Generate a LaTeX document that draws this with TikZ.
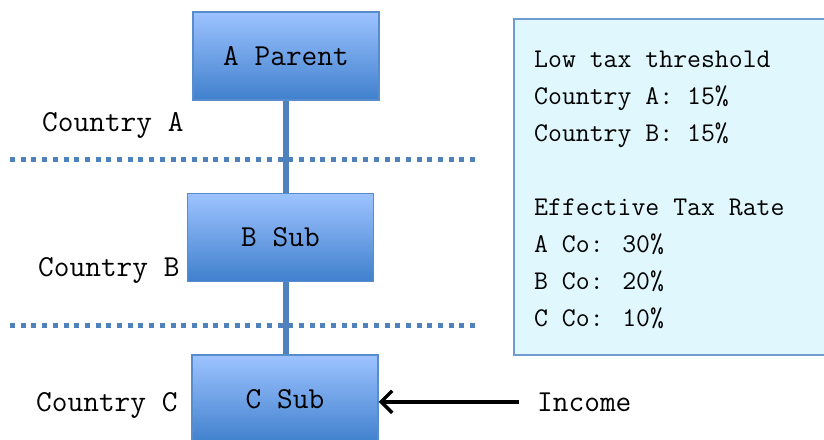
\documentclass[tikz,border=0pt]{standalone}
\usetikzlibrary{arrows.meta,backgrounds}
\definecolor{boxtop}{RGB}{157,195,255}
\definecolor{boxbot}{RGB}{64,128,205}
\definecolor{boxline}{RGB}{88,140,205}
\definecolor{linkblue}{RGB}{79,129,189}
\definecolor{infofill}{RGB}{223,247,253}
\definecolor{infoline}{RGB}{110,155,210}
\tikzset{
  orgbox/.style={draw=boxline, line width=1.5pt, top color=boxtop, bottom color=boxbot,
    minimum width=186pt, minimum height=88pt, inner sep=0pt,
    font=\ttfamily\fontsize{30.5}{37}\selectfont},
  lbl/.style={anchor=base west, inner sep=0pt, font=\ttfamily\fontsize{30.5}{37}\selectfont},
  infotxt/.style={anchor=base west, inner sep=0pt, font=\ttfamily\fontsize{27}{37}\selectfont},
  link/.style={draw=linkblue, line width=5.5pt},
  divider/.style={draw=linkblue, line width=5pt, dash pattern=on 5pt off 5.7pt},
  arr/.style={draw=black, line width=3.5pt, -{Straight Barb[length=11pt,width=22pt,line width=3.5pt]}}
}
\begin{document}
\begin{tikzpicture}[x=1pt,y=-1pt]
\useasboundingbox (0,0) rectangle (824,439);
% info box
\draw[fill=infofill, draw=infoline, line width=1.5pt] (514,19) rectangle (834,355);
\node[infotxt] (i1) at (534,67) {Low tax threshold};
\node[infotxt] (i2) at (534,104) {Country A: 15\%};
\node[infotxt] (i3) at (534,141) {Country B: 15\%};
\node[infotxt] (i4) at (534,215) {Effective Tax Rate};
\node[infotxt] (i5) at (534,252) {A Co: 30\%};
\node[infotxt] (i6) at (534,289) {B Co: 20\%};
\node[infotxt] (i7) at (534,326) {C Co: 10\%};
% boxes
\node[orgbox] (na) at (286,56) {A Parent};
\node[orgbox] (nb) at (280.5,237.5) {B Sub};
\node[orgbox] (nc) at (285,399) {C Sub};
% dividers
\coordinate (d1l) at (10,159);
\coordinate (d1r) at (478,159);
\coordinate (d2l) at (10,325);
\coordinate (d2r) at (478,325);
% connectors and dividers behind the boxes
\begin{scope}[on background layer]
\draw[divider] (d1l) -- (d1r);
\draw[divider] (d2l) -- (d2r);
\draw[link] (na.south) -- (na.south |- nb.north);
\draw[link] (na.south |- nb.south) -- (na.south |- nc.north);
\end{scope}
% country labels
\node[lbl] (ca) at (42,131) {Country A};
\node[lbl] (cb) at (38,276) {Country B};
\node[lbl] (cc) at (36,411) {Country C};
% income
\node[lbl, inner xsep=18pt] (inc) at (519,411) {Income};
\draw[arr] (inc.west) -- (inc.west -| nc.east);
\end{tikzpicture}
\end{document}
